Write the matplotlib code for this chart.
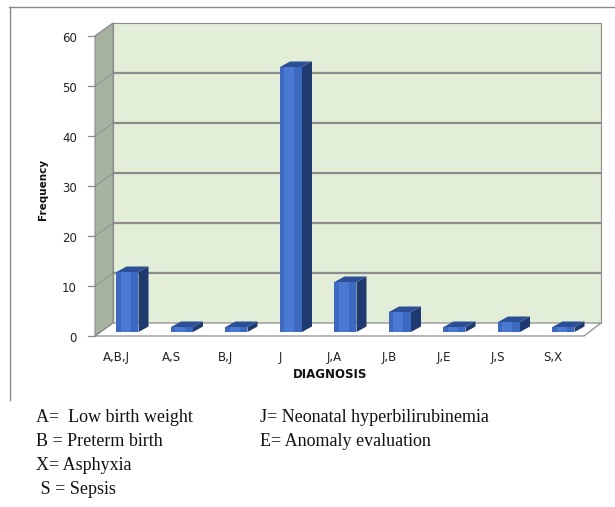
import numpy as np
import matplotlib.pyplot as plt
from matplotlib.patches import Polygon

categories = ['A,B,J', 'A,S', 'B,J', 'J', 'J,A', 'J,B', 'J,E', 'J,S', 'S,X']
frequency = [12, 1, 1, 53, 10, 4, 1, 2, 1]
yticks = [0, 10, 20, 30, 40, 50, 60]
legend_left = ['A=  Low birth weight', 'B = Preterm birth', 'X= Asphyxia', ' S = Sepsis']
legend_right = ['J= Neonatal hyperbilirubinemia', 'E= Anomaly evaluation']

# pixel layout of the picture (615 x 507)
X0, SX = 127.5, 54.5     # pixel x of first bar centre, pixels per category
Y0, SY = 332.0, 5.0      # pixel y of value 0 on the bar plane, pixels per unit


def px(x):
    return (x - X0) / SX


def py(y):
    return (Y0 - y) / SY


fig = plt.figure(figsize=(6.15, 5.07), dpi=100)
ax = fig.add_axes([0, 0, 1, 1])
ax.set_xlim(px(0), px(615))
ax.set_ylim(py(507), py(0))
ax.axis('off')

front_dy, back_dy = py(336), py(323)
side_front, side_back = px(95), px(113)
wall_right, floor_right = px(601), px(584)
top = yticks[-1]

# back wall, side wall, floor
ax.add_patch(Polygon([(side_back, back_dy), (wall_right, back_dy),
                      (wall_right, top + back_dy), (side_back, top + back_dy)],
                     closed=True, facecolor='#e2eed8', edgecolor='#8c8c8c', lw=0.8, zorder=1))
ax.add_patch(Polygon([(side_front, front_dy), (side_back, back_dy),
                      (side_back, top + back_dy), (side_front, top + front_dy)],
                     closed=True, facecolor='#a8b2a0', edgecolor='#8c8c8c', lw=0.8, zorder=1))
ax.add_patch(Polygon([(side_front, front_dy), (floor_right, front_dy),
                      (wall_right, back_dy), (side_back, back_dy)],
                     closed=True, facecolor='white', edgecolor='#8c8c8c', lw=0.9, zorder=1))

# grid lines, ticks, tick labels
for v in yticks[1:-1]:
    ax.plot([side_back, wall_right], [v + back_dy, v + back_dy], color='#8c8c8c', lw=1.6, zorder=2)
for v in yticks:
    ax.plot([side_front, side_back], [v + front_dy, v + back_dy], color='#8c8c8c', lw=0.6, zorder=2)
    ax.plot([px(88), side_front], [v + front_dy, v + front_dy], color='#8c8c8c', lw=0.9, zorder=2)
    ax.text(px(77), v + front_dy - 0.6, str(v), ha='right', va='center',
            fontsize=8.5, color='#222222')

# bars with a simple 3d look
x = np.arange(len(categories))
w = 22 / SX
ddx, ddy = 10 / SX, 1.1
for xi, v in zip(x, frequency):
    l, r = xi - w / 2, xi + w / 2
    ax.add_patch(Polygon([(r, 0), (r + ddx, ddy), (r + ddx, v + ddy), (r, v)],
                         closed=True, facecolor='#1f3a6e', edgecolor='none', zorder=3))
    ax.add_patch(Polygon([(l, v), (r, v), (r + ddx, v + ddy), (l + ddx, v + ddy)],
                         closed=True, facecolor='#2c4f96', edgecolor='none', zorder=3))
ax.bar(x, frequency, width=w, color='#3d69c0', zorder=4)
ax.bar(x - w * 0.08, frequency, width=w * 0.45, color='#4a79d2', zorder=4)

for xi, c in zip(x, categories):
    ax.text(xi - 0.2, py(358), c, ha='center', va='center', fontsize=8.5, color='#222222')

ax.text(px(330), py(375), 'DIAGNOSIS', ha='center', va='center', fontsize=8.5,
        fontweight='bold', color='#111111')
ax.text(px(43), py(189), 'Frequency', ha='center', va='center', fontsize=7.5,
        fontweight='bold', rotation=90, color='#111111')

# outer frame of the chart area
ax.plot([px(9), px(615)], [py(7), py(7)], color='#8c8c8c', lw=1, clip_on=False)
ax.plot([px(10), px(10)], [py(7), py(400)], color='#8c8c8c', lw=1, clip_on=False)

# key below the chart
for k, t in enumerate(legend_left):
    ax.text(px(36), py(417 + 24.3 * k), t, ha='left', va='center', fontsize=13,
            family='Liberation Serif', color='#111111')
for k, t in enumerate(legend_right):
    ax.text(px(260), py(417 + 24.3 * k), t, ha='left', va='center', fontsize=13,
            family='Liberation Serif', color='#111111')

fig.savefig('out.png', dpi=100)
